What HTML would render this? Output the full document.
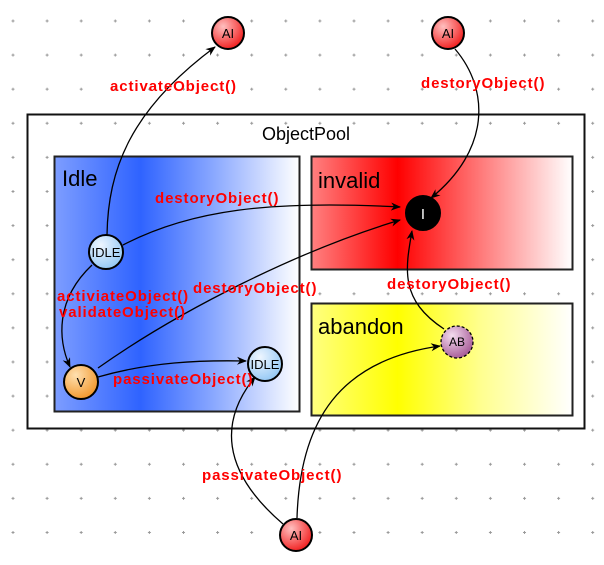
<!DOCTYPE html>
<html><head><style>body{margin:0;background:#fff}svg{display:block}</style></head>
<body>
<svg width="604" height="565" viewBox="0 0 604 565" xmlns="http://www.w3.org/2000/svg" font-family="'Liberation Sans',sans-serif">
<defs>
<pattern id="g" x="11" y="19" width="34.1" height="34.1" patternUnits="userSpaceOnUse">
<path d="M0.5 2h3M2 0.5v3" stroke="#999" stroke-width="1"/>
</pattern>
<linearGradient id="blue" x1="0" x2="1"><stop offset="0" stop-color="#7d9dff"/><stop offset="0.35" stop-color="#2f63ff"/><stop offset="0.65" stop-color="#8aa8ff"/><stop offset="1" stop-color="#fff"/></linearGradient>
<linearGradient id="red" x1="0" x2="1"><stop offset="0" stop-color="#ff8080"/><stop offset="0.33" stop-color="#ff0000"/><stop offset="0.65" stop-color="#ff7a7a"/><stop offset="1" stop-color="#fff"/></linearGradient>
<linearGradient id="yel" x1="0" x2="1"><stop offset="0" stop-color="#ffff80"/><stop offset="0.33" stop-color="#ffff00"/><stop offset="0.65" stop-color="#ffff90"/><stop offset="1" stop-color="#fff"/></linearGradient>
<radialGradient id="rn" cx="0.35" cy="0.3" r="0.8"><stop offset="0" stop-color="#ffc0c0"/><stop offset="1" stop-color="#f01010"/></radialGradient>
<radialGradient id="bn" cx="0.35" cy="0.3" r="0.8"><stop offset="0" stop-color="#eef6ff"/><stop offset="1" stop-color="#8cc4f4"/></radialGradient>
<radialGradient id="on" cx="0.35" cy="0.3" r="0.8"><stop offset="0" stop-color="#ffe0b0"/><stop offset="1" stop-color="#f09020"/></radialGradient>
<radialGradient id="pn" cx="0.35" cy="0.3" r="0.8"><stop offset="0" stop-color="#f4dcef"/><stop offset="1" stop-color="#a05090"/></radialGradient>
<marker id="a" markerWidth="10" markerHeight="10" refX="9" refY="5" orient="auto" markerUnits="userSpaceOnUse"><path d="M0 1L10 5L0 9L3 5z" fill="#000"/></marker>
</defs>
<rect width="604" height="565" fill="url(#g)"/>
<rect x="27.5" y="114.5" width="557" height="314" fill="#fff" stroke="#111" stroke-width="2"/>
<g fill="url(#g)"><rect x="29" y="116" width="554" height="311"/></g>
<text x="306" y="140" font-size="18" text-anchor="middle">ObjectPool</text>
<rect x="54.5" y="156.5" width="245" height="255" fill="url(#blue)" stroke="#222" stroke-width="2"/>
<rect x="311.5" y="156.5" width="261" height="113" fill="url(#red)" stroke="#222" stroke-width="2"/>
<rect x="311.5" y="303.5" width="261" height="112" fill="url(#yel)" stroke="#222" stroke-width="2"/>
<text x="62" y="186" font-size="22">Idle</text>
<text x="318" y="188" font-size="22">invalid</text>
<text x="318" y="334" font-size="22">abandon</text>
<g fill="none" stroke="#000" stroke-width="1.3">
<path d="M107 235 C108 170 130 110 215 47" marker-end="url(#a)"/>
<path d="M455 49 C490 90 490 150 431 198" marker-end="url(#a)"/>
<path d="M123 245 C190 210 270 200 400 207" marker-end="url(#a)"/>
<path d="M98 368 C180 310 300 250 400 220" marker-end="url(#a)"/>
<path d="M98 377 C150 362 200 360 246 361" marker-end="url(#a)"/>
<path d="M92 265 C55 300 58 340 70 367" marker-end="url(#a)"/>
<path d="M444 329 C400 300 405 270 412 231" marker-end="url(#a)"/>
<path d="M283 524 C220 470 220 420 255 377" marker-end="url(#a)"/>
<path d="M297 518 C300 420 340 360 440 346" marker-end="url(#a)"/>
</g>
<g font-weight="bold" fill="#f00" font-size="15" letter-spacing="0.9">
<text x="110" y="91">activateObject()</text>
<text x="421" y="88">destoryObject()</text>
<text x="155" y="203">destoryObject()</text>
<text x="193" y="293">destoryObject()</text>
<text x="387" y="289">destoryObject()</text>
<text x="57" y="301">activiateObject()</text>
<text x="59" y="317">validateObject()</text>
<text x="113" y="384">passivateObject()</text>
<text x="202" y="480">passivateObject()</text>
</g>
<g stroke="#000" stroke-width="2" font-size="13" text-anchor="middle">
<circle cx="228" cy="33" r="16" fill="url(#rn)"/><text x="228" y="38" stroke="none">AI</text>
<circle cx="448" cy="33" r="16" fill="url(#rn)"/><text x="448" y="38" stroke="none">AI</text>
<circle cx="296" cy="535" r="16" fill="url(#rn)"/><text x="296" y="540" stroke="none">AI</text>
<circle cx="423" cy="213" r="17" fill="#000"/><text x="423" y="219" stroke="none" fill="#fff" font-size="15">I</text>
<circle cx="106" cy="252" r="17" fill="url(#bn)"/><text x="106" y="257" stroke="none">IDLE</text>
<circle cx="265" cy="364" r="17" fill="url(#bn)"/><text x="265" y="369" stroke="none">IDLE</text>
<circle cx="81" cy="382" r="17" fill="url(#on)"/><text x="81" y="387" stroke="none">V</text>
<circle cx="457" cy="342" r="16" fill="url(#pn)" stroke-dasharray="3 2" stroke-width="1.3"/><text x="457" y="346" stroke="none" font-size="12">AB</text>
</g>
</svg>
</body></html>
